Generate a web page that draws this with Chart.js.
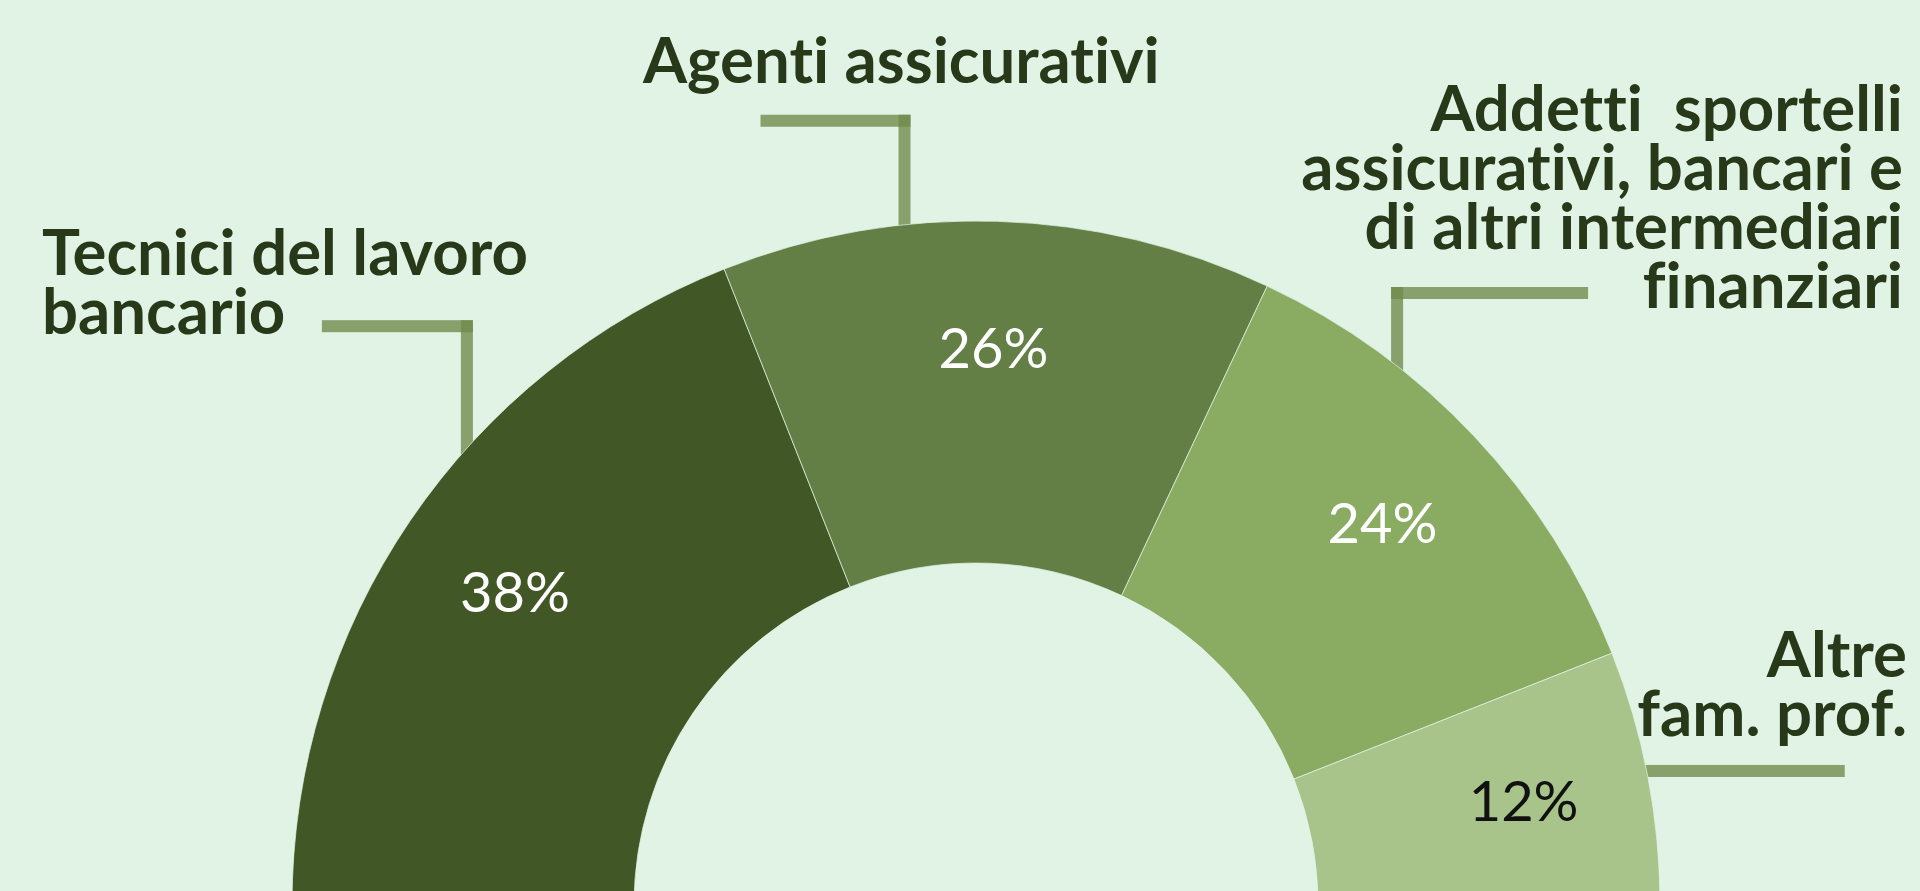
<!DOCTYPE html>
<html>
<head>
<meta charset="utf-8">
<script src="https://cdn.jsdelivr.net/npm/chart.js@4.4.1/dist/chart.umd.min.js"></script>
<style>
  html, body { margin: 0; padding: 0; background: #e1f3e5; overflow: hidden; }
  #wrap { position: relative; width: 1920px; height: 891px; }
</style>
</head>
<body>
<div id="wrap"><canvas id="chart"></canvas></div>
<script>
// data
const categories = ['Tecnici del lavoro bancario', 'Agenti assicurativi', 'Addetti sportelli assicurativi, bancari e di altri intermediari finanziari', 'Altre fam. prof.']
const shares = [38, 26, 24, 12]
const sliceColors = ['#425726', '#647f45', '#8aab62', '#a8c48a']
const valueColors = ['#ffffff', '#ffffff', '#ffffff', '#111111']

// category labels as drawn next to the chart (one entry per line)
const labelLines = [
    ['Tecnici del lavoro', 'bancario'],
    ['Agenti assicurativi'],
    ['Addetti  sportelli', 'assicurativi, bancari e', 'di altri intermediari', 'finanziari'],
    ['Altre', 'fam. prof.']
]
const labelPos = [
    {x: 42, y: 275, align: 'left'},
    {x: 643, y: 83, align: 'left'},
    {x: 1903, y: 131, align: 'right'},
    {x: 1907, y: 677, align: 'right'}
]
// leader lines: angle on the outer edge (deg, from the left end), vertical rise, horizontal arm
const leaders = [
    {angle: 41.9, rise: 122, arm: -145},
    {angle: 84.0, rise: 104, arm: -144},
    {angle: 128.0, rise: 73, arm: 191},
    {angle: 168.7, rise: 0, arm: 198}
]

const textColor = '#28391a'
const leaderColor = 'rgba(113,139,78,0.8)'
const leaderWidth = 12

const leaderPlugin = {
    id: 'leaders',
    beforeDatasetsDraw(chart) {
        const arc = chart.getDatasetMeta(0).data[0]
        const {x, y, outerRadius} = arc.getProps(['x', 'y', 'outerRadius'], true)
        const ctx = chart.ctx
        ctx.save()
        ctx.fillStyle = leaderColor
        leaders.forEach(l => {
            const a = l.angle * Math.PI / 180
            const ax = x - Math.cos(a) * outerRadius
            const ay = y - Math.sin(a) * outerRadius
            const ey = ay - l.rise
            if (l.rise > 0) {
                ctx.fillRect(ax - leaderWidth / 2, ey - leaderWidth / 2, leaderWidth, l.rise + leaderWidth / 2 + 12)
                const x0 = l.arm < 0 ? ax + leaderWidth / 2 : ax - leaderWidth / 2
                const x1 = ax + l.arm
                ctx.fillRect(Math.min(x0, x1), ey - leaderWidth / 2, Math.abs(x1 - x0), leaderWidth)
            } else {
                ctx.fillRect(ax - 12, ay - leaderWidth / 2, l.arm + 12, leaderWidth)
            }
        })
        ctx.restore()
    }
}

const textPlugin = {
    id: 'texts',
    afterDatasetsDraw(chart) {
        const ctx = chart.ctx
        const meta = chart.getDatasetMeta(0)
        ctx.save()
        // percentages inside the slices
        ctx.font = '400 56px Lato'
        ctx.textAlign = 'center'
        ctx.textBaseline = 'alphabetic'
        meta.data.forEach((arc, i) => {
            const p = arc.getProps(['x', 'y', 'startAngle', 'endAngle', 'innerRadius', 'outerRadius'], true)
            const mid = (p.startAngle + p.endAngle) / 2
            const r = p.innerRadius + 0.63 * (p.outerRadius - p.innerRadius)
            ctx.fillStyle = valueColors[i]
            ctx.fillText(shares[i] + '%', p.x + Math.cos(mid) * r, p.y + Math.sin(mid) * r + 20)
        })
        // category labels (tiny letter spacing keeps the "tt"/"ti" ligatures off)
        ctx.font = 'bold 63.5px Lato'
        ctx.letterSpacing = '0.01px'
        ctx.fillStyle = textColor
        labelLines.forEach((lines, i) => {
            ctx.textAlign = labelPos[i].align
            lines.forEach((t, j) => ctx.fillText(t, labelPos[i].x, labelPos[i].y + j * 59))
        })
        ctx.restore()
    }
}

Promise.all([
    document.fonts.load('bold 64px Lato'),
    document.fonts.load('400 56px Lato')
]).catch(() => {}).then(() => {
    new Chart(document.getElementById('chart'), {
        type: 'doughnut',
        data: {
            labels: categories,
            datasets: [{
                data: shares,
                backgroundColor: sliceColors,
                borderColor: 'rgba(225,243,229,0.7)',
                borderWidth: 1
            }]
        },
        options: {
            responsive: true,
            maintainAspectRatio: false,
            animation: false,
            rotation: -90,
            circumference: 180,
            cutout: '50%',
            radius: 684,
            layout: { padding: { left: 32, top: 235, right: 0, bottom: 0 } },
            plugins: {
                legend: { display: false },
                tooltip: { enabled: false }
            }
        },
        plugins: [leaderPlugin, textPlugin]
    })
})
</script>
</body>
</html>
